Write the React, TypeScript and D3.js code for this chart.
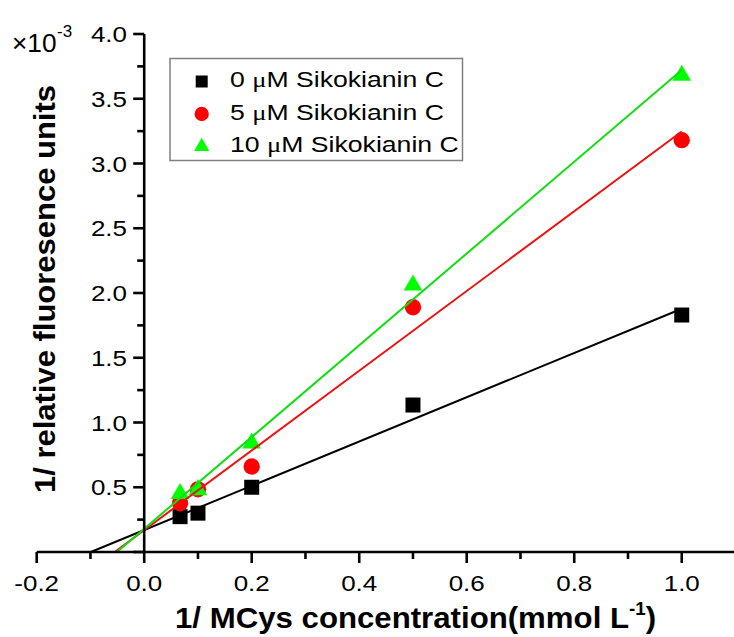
import React from "react";
import * as d3 from "d3";

// 1/[S] values (mmol L-1)
const xValues = [0.0667, 0.1, 0.2, 0.5, 1.0];

// 1/relative fluorescence units (x10^-3)
const ySiko0 = [0.273, 0.30, 0.50, 1.135, 1.83];
const ySiko5 = [0.376, 0.484, 0.66, 1.89, 3.18];
const ySiko10 = [0.45, 0.48, 0.84, 2.06, 3.68];

const seriesNames = ["0 \u03bcM Sikokianin C", "5 \u03bcM Sikokianin C", "10 \u03bcM Sikokianin C"];
const seriesValues = [ySiko0, ySiko5, ySiko10];
const markerColors = ["#000000", "#ff0000", "#00ff00"];
const lineColors = ["#000000", "#ee1111", "#11dd11"];
const markerTypes = [d3.symbolSquare, d3.symbolCircle, d3.symbolTriangle];

const xLabel = "1/ MCys concentration(mmol L";
const yLabel = "1/ relative fluoresence units";

const FONT = "'Liberation Sans', Arial, sans-serif";

// least squares fit, as used for the Lineweaver-Burk lines
function linFit(xs: number[], ys: number[]) {
  const mx = d3.mean(xs)!;
  const my = d3.mean(ys)!;
  let sxy = 0, sxx = 0;
  xs.forEach((x, i) => {
    sxy += (x - mx) * (ys[i] - my);
    sxx += (x - mx) * (x - mx);
  });
  const slope = sxy / sxx;
  return { slope, intercept: my - slope * mx };
}

export default function App() {
  const width = 734;
  const height = 637;

  const xScale = d3.scaleLinear().domain([-0.2, 1.1]).range([36.7, 735.5]);
  const yScale = d3.scaleLinear().domain([0, 4]).range([552, 34]);
  const x0 = xScale(0);
  const yBase = yScale(0);

  const xMajor = xScale.ticks(7);
  const xMinor = xScale.ticks(13).filter(t => !xMajor.some(m => Math.abs(m - t) < 1e-9));
  const yMajor = yScale.ticks(8);
  const yMinor = d3.range(0.25, 4, 0.5);
  const fmt = (v: number) => d3.format(".1f")(v).replace("\u2212", "-");

  const lineGen = d3.line<[number, number]>()
    .x(d => xScale(d[0]))
    .y(d => yScale(d[1]));

  const legendRows = [87, 119.5, 152];

  return (
    <svg width={width} height={height} style={{ position: "absolute", left: 0, top: 0, background: "#fff" }}>
      <rect x={0} y={0} width={width} height={height} fill="#fff" />

      {/* markers */}
      {seriesValues.map((ys, si) => (
        <g key={"m" + si}>
          {ys.map((v, i) => {
            const size = si === 0 ? 225 : si === 1 ? 210 : 150;
            return (
              <path
                key={i}
                d={d3.symbol().type(markerTypes[si]).size(size)()!}
                transform={`translate(${xScale(xValues[i])},${yScale(v)})`}
                fill={markerColors[si]}
              />
            );
          })}
        </g>
      ))}

      {/* fit lines, from the x-intercept to the last point */}
      {seriesValues.map((ys, si) => {
        const { slope, intercept } = linFit(xValues, ys);
        const xStart = -intercept / slope;
        const xEnd = d3.max(xValues)!;
        return (
          <path
            key={"l" + si}
            d={lineGen([[xStart, 0], [xEnd, slope * xEnd + intercept]])!}
            stroke={lineColors[si]}
            strokeWidth={2}
            fill="none"
          />
        );
      })}

      {/* x axis */}
      <line x1={xScale(-0.2)} x2={width} y1={yBase} y2={yBase} stroke="#000" strokeWidth={2.6} />
      {xMajor.map(t => (
        <g key={"xt" + t}>
          <line x1={xScale(t)} x2={xScale(t)} y1={yBase} y2={yBase + 11} stroke="#000" strokeWidth={2.6} />
          <text
            transform={`translate(${xScale(t)},590.5) scale(1.18,1)`}
            textAnchor="middle"
            fontSize={22}
            fontFamily={FONT}
          >
            {fmt(t)}
          </text>
        </g>
      ))}
      {xMinor.map(t => (
        <line key={"xm" + t} x1={xScale(t)} x2={xScale(t)} y1={yBase} y2={yBase + 7} stroke="#000" strokeWidth={2.6} />
      ))}

      {/* y axis */}
      <line x1={x0} x2={x0} y1={yBase} y2={yScale(4)} stroke="#000" strokeWidth={2.6} />
      {yMajor.map(t => (
        <g key={"yt" + t}>
          <line x1={x0 - 11} x2={x0} y1={yScale(t)} y2={yScale(t)} stroke="#000" strokeWidth={2.6} />
          {t > 0 && (
            <text
              transform={`translate(127,${yScale(t) + 8}) scale(1.18,1)`}
              textAnchor="end"
              fontSize={22}
              fontFamily={FONT}
            >
              {fmt(t)}
            </text>
          )}
        </g>
      ))}
      {yMinor.map(t => (
        <line key={"ym" + t} x1={x0 - 7} x2={x0} y1={yScale(t)} y2={yScale(t)} stroke="#000" strokeWidth={2.6} />
      ))}

      {/* exponent */}
      <text transform="translate(12,52) scale(1.05,1)" fontSize={25} fontFamily={FONT}>
        {"\u00d710"}
      </text>
      <text x={57} y={37} fontSize={17} fontFamily={FONT}>-3</text>

      {/* axis titles */}
      <text transform="translate(175,628) scale(1.04,1)" fontSize={30} fontWeight="bold" fontFamily={FONT}>
        {xLabel}
        <tspan fontSize={18} dy={-13}>-1</tspan>
        <tspan fontSize={30} dy={13}>)</tspan>
      </text>
      <text
        transform="translate(55,289) rotate(-90)"
        textAnchor="middle"
        fontSize={30}
        fontWeight="bold"
        fontFamily={FONT}
        textLength={408}
        lengthAdjust="spacingAndGlyphs"
      >
        {yLabel}
      </text>

      {/* legend */}
      <rect x={170} y={58.5} width={292.5} height={102} fill="#fff" stroke="#808080" strokeWidth={1.5} />
      {seriesNames.map((name, i) => {
        const size = i === 0 ? 144 : i === 1 ? 160 : 100;
        const parts = name.split("\u03bc");
        return (
          <g key={"lg" + i}>
            <path
              d={d3.symbol().type(markerTypes[i]).size(size)()!}
              transform={`translate(201.7,${legendRows[i] - 5.5})`}
              fill={markerColors[i]}
            />
            <text transform={`translate(230,${legendRows[i]}) scale(1.21,1)`} fontSize={22} fontFamily={FONT}>
              {parts[0]}
              <tspan fontFamily="'Liberation Serif', 'Times New Roman', serif">{"\u03bc"}</tspan>
              {parts[1]}
            </text>
          </g>
        );
      })}
    </svg>
  );
}
